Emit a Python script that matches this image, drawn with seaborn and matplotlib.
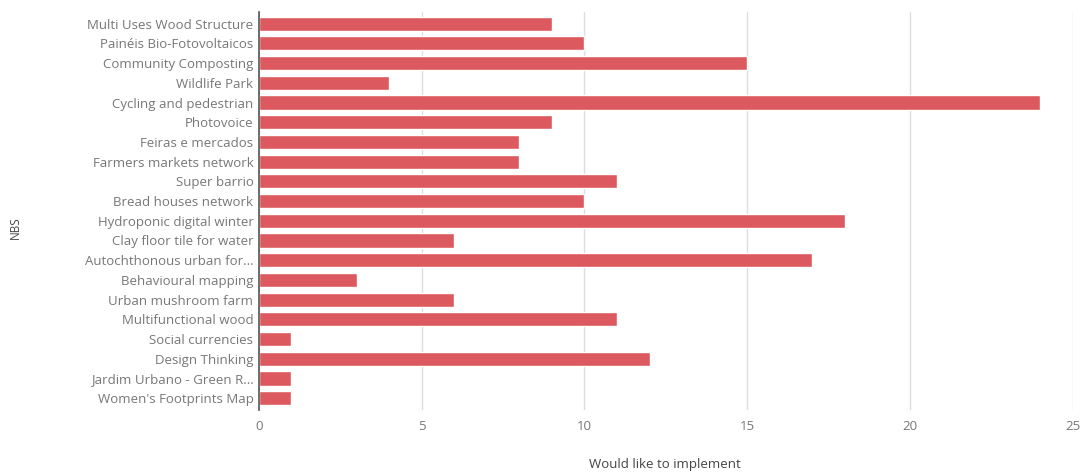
import matplotlib
matplotlib.use('Agg')
import matplotlib.pyplot as plt
import seaborn as sns
import pandas as pd

# 數據
nbs = [
    "Multi Uses Wood Structure", "Painéis Bio-Fotovoltaicos", "Community Composting",
    "Wildlife Park", "Cycling and pedestrian", "Photovoice", "Feiras e mercados",
    "Farmers markets network", "Super barrio", "Bread houses network",
    "Hydroponic digital winter", "Clay floor tile for water", "Autochthonous urban for...",
    "Behavioural mapping", "Urban mushroom farm", "Multifunctional wood",
    "Social currencies", "Design Thinking", "Jardim Urbano - Green R...",
    "Women's Footprints Map",
]
implement = [9, 10, 15, 4, 24, 9, 8, 8, 11, 10, 18, 6, 17, 3, 6, 11, 1, 12, 1, 1]
x_ticks = [0, 5, 10, 15, 20, 25]

df = pd.DataFrame({"NBS": nbs, "Would like to implement": implement})

sns.set_style("white")
plt.rcParams['font.family'] = ['Open Sans', 'DejaVu Sans']

fig = plt.figure(figsize=(10.88, 4.74), dpi=100)
ax = fig.add_axes([0.238, 0.135, 0.748, 0.84])

sns.barplot(data=df, y="NBS", x="Would like to implement", color="#dc5a5f",
            saturation=1, width=0.72, ax=ax)

ax.set_xlim(0, 25)
ax.set_xticks(x_ticks)
ax.set_ylim(len(nbs) - 0.4, -0.6)
ax.grid(axis='x', color='#dddddd', linewidth=1)
ax.set_axisbelow(True)

for side in ['top', 'right', 'bottom']:
    ax.spines[side].set_visible(False)
ax.spines['left'].set_color('#555555')
ax.spines['left'].set_linewidth(1.2)

ax.tick_params(axis='both', length=0, colors='#777777', labelsize=9.5)
ax.tick_params(axis='x', pad=7)
ax.tick_params(axis='y', pad=4)

# 軸標題直接放在 figure 上，避免被裁切
ax.set_xlabel("")
ax.set_ylabel("")
fig.text(0.611, 0.02, "Would like to implement", ha='center', va='center',
         fontsize=9.5, color='#444444')
fig.text(0.014, 0.52, "NBS", ha='center', va='center', rotation=90,
         fontsize=8.5, color='#444444')

fig.savefig("out.png", dpi=100)
plt.close(fig)
